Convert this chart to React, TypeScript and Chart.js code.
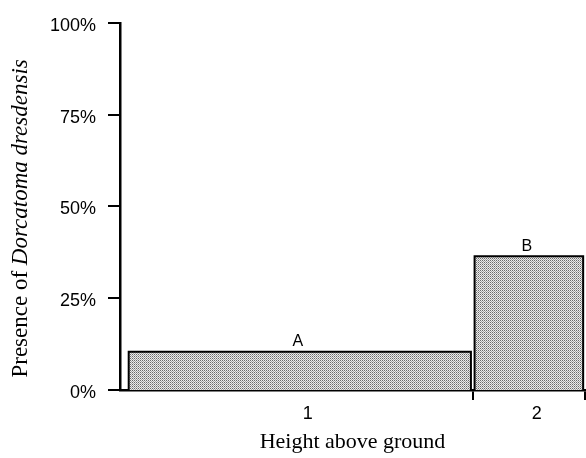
import React, { useEffect, useRef } from 'react';
import { Chart, registerables } from 'chart.js';

Chart.register(...registerables);

// ---- data ----
const categories = ['1', '2'];          // height above ground classes
const groupShare = [75.5, 24.5];        // share of the x axis taken by each class (%)
const presence = [10.4, 36.4];          // presence (%)
const letters = ['A', 'B'];             // significance letters
const yTicks = [0, 25, 50, 75, 100];

// ---- style constants ----
const X_MIN = -1.5;
const BAR_INSET = 0.4;
const SANS = '"Liberation Sans", Arial, sans-serif';
const SERIF = '"Liberation Serif", "Times New Roman", serif';

const bounds: number[] = [0];
groupShare.forEach((s, i) => bounds.push(bounds[i] + s));
const centers = categories.map((_, i) => (bounds[i] + bounds[i + 1]) / 2);

const yTitlePlugin = {
  id: 'yTitleMixed',
  afterDraw(chart: any) {
    const ctx = chart.ctx as CanvasRenderingContext2D;
    const a = chart.chartArea;
    const normal = `23px ${SERIF}`;
    const italic = `italic 23px ${SERIF}`;
    const parts: [string, string][] = [
      ['Presence of ', normal],
      ['Dorcatoma dresdensis', italic],
    ];
    ctx.save();
    let total = 0;
    const widths = parts.map(([t, f]) => {
      ctx.font = f;
      const w = ctx.measureText(t).width;
      total += w;
      return w;
    });
    const cy = (a.top + a.bottom) / 2 + 12;
    ctx.translate(27, cy);
    ctx.rotate(-Math.PI / 2);
    ctx.fillStyle = '#000';
    ctx.textAlign = 'left';
    ctx.textBaseline = 'alphabetic';
    let x = -total / 2;
    parts.forEach(([t, f], i) => {
      ctx.font = f;
      ctx.fillText(t, x, 0);
      x += widths[i];
    });
    ctx.restore();
  },
};

const letterPlugin = {
  id: 'barLetters',
  afterDatasetsDraw(chart: any) {
    const ctx = chart.ctx as CanvasRenderingContext2D;
    const xs = chart.scales.x;
    const ys = chart.scales.y;
    ctx.save();
    ctx.font = `16px ${SANS}`;
    ctx.fillStyle = '#000';
    ctx.textAlign = 'center';
    ctx.textBaseline = 'bottom';
    letters.forEach((l, i) => {
      const cx = (xs.getPixelForValue(bounds[i] + BAR_INSET) + xs.getPixelForValue(bounds[i + 1] - BAR_INSET)) / 2;
      const y = ys.getPixelForValue(presence[i]) - 2;
      ctx.fillText(l, cx - 2, y);
    });
    ctx.restore();
  },
};

export default function App() {
  const ref = useRef<HTMLCanvasElement | null>(null);

  useEffect(() => {
    const canvas = ref.current;
    if (!canvas) return;
    const ctx = canvas.getContext('2d')!;

    const pc = document.createElement('canvas');
    pc.width = 2;
    pc.height = 2;
    const p = pc.getContext('2d')!;
    p.fillStyle = '#ebebeb';
    p.fillRect(0, 0, 2, 2);
    p.fillStyle = '#6a6a6a';
    p.fillRect(0, 0, 1, 1);
    p.fillStyle = '#a4a4a4';
    p.fillRect(1, 1, 1, 1);
    const pattern = ctx.createPattern(pc, 'repeat');

    const datasets = categories.map((c, i) => {
      const x0 = bounds[i] + BAR_INSET;
      const x1 = bounds[i + 1] - BAR_INSET;
      const h = presence[i];
      return {
        label: c,
        data: [
          { x: x0, y: 0 },
          { x: x0, y: h },
          { x: x1, y: h },
          { x: x1, y: 0 },
        ],
        fill: 'origin',
        backgroundColor: pattern,
        borderColor: '#000',
        borderWidth: 2,
        pointRadius: 0,
        tension: 0,
        xAxisID: 'x',
        yAxisID: 'y',
      };
    });

    const chart = new Chart(ctx, {
      type: 'line',
      data: { datasets: datasets as any },
      options: {
        animation: false,
        responsive: true,
        maintainAspectRatio: false,
        events: [],
        layout: { padding: { top: 16, right: 1, left: 0, bottom: 0 } },
        plugins: {
          legend: { display: false },
          tooltip: { enabled: false },
        },
        scales: {
          x: {
            type: 'linear',
            position: 'bottom',
            min: X_MIN,
            max: bounds[bounds.length - 1],
            weight: 0,
            z: 1,
            afterBuildTicks: (s: any) => {
              s.ticks = bounds.slice(1).map((v) => ({ value: v }));
            },
            afterFit: (s: any) => {
              s.height = 10;
            },
            ticks: { display: false },
            grid: {
              display: true,
              drawOnChartArea: false,
              drawTicks: true,
              tickLength: 10,
              color: '#000',
              lineWidth: 2,
            },
            border: { display: true, color: '#000', width: 2.5 },
          },
          xLabels: {
            type: 'linear',
            position: 'bottom',
            min: X_MIN,
            max: bounds[bounds.length - 1],
            weight: 1,
            afterBuildTicks: (s: any) => {
              s.ticks = centers.map((v) => ({ value: v }));
            },
            afterFit: (s: any) => {
              s.height = 58;
            },
            ticks: {
              autoSkip: false,
              maxRotation: 0,
              minRotation: 0,
              padding: 3,
              labelOffset: 8,
              color: '#000',
              font: { family: SANS, size: 18 },
              callback: (_v: any, i: number) => categories[i],
            },
            grid: { display: false, drawTicks: false },
            border: { display: false },
            title: {
              display: true,
              text: 'Height above ground',
              color: '#000',
              font: { family: SERIF, size: 22 },
              padding: { top: 0, bottom: 3 },
            },
          },
          y: {
            type: 'linear',
            min: 0,
            max: 100,
            afterBuildTicks: (s: any) => {
              s.ticks = yTicks.map((v) => ({ value: v }));
            },
            afterFit: (s: any) => {
              s.width = 120;
            },
            ticks: {
              padding: 12,
              labelOffset: 3,
              color: '#000',
              font: { family: SANS, size: 18 },
              callback: (v: any) => `${v}%`,
            },
            grid: {
              drawOnChartArea: false,
              drawTicks: true,
              tickLength: 12,
              color: '#000',
              lineWidth: 2,
            },
            border: { display: true, color: '#000', width: 2.5 },
          },
        },
      } as any,
      plugins: [yTitlePlugin, letterPlugin],
    });

    return () => chart.destroy();
  }, []);

  return (
    <div style={{ position: 'absolute', left: 0, top: 0, width: 586, height: 458, background: '#fff' }}>
      <canvas ref={ref} />
    </div>
  );
}
